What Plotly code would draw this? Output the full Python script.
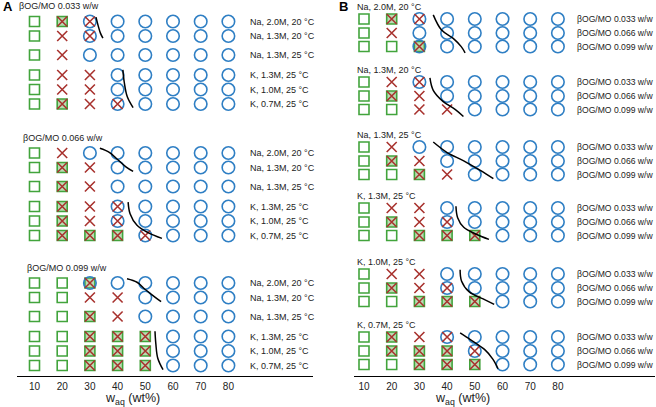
import plotly.graph_objects as go

# ---------------- data ----------------
waq = [10, 20, 30, 40, 50, 60, 70, 80]
tick_labels = ["10", "20", "30", "40", "50", "60", "70", "80"]
conditions = ["Na, 2.0M, 20 °C", "Na, 1.3M, 20 °C", "Na, 1.3M, 25 °C",
              "K, 1.3M, 25 °C", "K, 1.0M, 25 °C", "K, 0.7M, 25 °C"]
ratios = ["βOG/MO 0.033 w/w", "βOG/MO 0.066 w/w", "βOG/MO 0.099 w/w"]

# S = lamellar (square), X = cross, O = circle, combos = coexistence
phase_033 = [
    ["S", "SX", "OX", "O", "O", "O", "O", "O"],
    ["S", "X", "OX", "O", "O", "O", "O", "O"],
    ["S", "X", "O", "O", "O", "O", "O", "O"],
    ["S", "X", "X", "O", "O", "O", "O", "O"],
    ["S", "X", "X", "O", "O", "O", "O", "O"],
    ["S", "SX", "X", "OX", "O", "O", "O", "O"],
]
phase_066 = [
    ["S", "X", "O", "O", "O", "O", "O", "O"],
    ["S", "SX", "X", "O", "O", "O", "O", "O"],
    ["S", "SX", "X", "O", "O", "O", "O", "O"],
    ["S", "SX", "X", "OX", "O", "O", "O", "O"],
    ["S", "SX", "X", "OX", "O", "O", "O", "O"],
    ["S", "SX", "SX", "SX", "OX", "O", "O", "O"],
]
phase_099 = [
    ["S", "S", "SOX", "O", "O", "O", "O", "O"],
    ["S", "S", "X", "X", "O", "O", "O", "O"],
    ["S", "S", "SX", "X", "O", "O", "O", "O"],
    ["S", "S", "SX", "SX", "SX", "O", "O", "O"],
    ["S", "S", "SX", "SX", "SX", "O", "O", "O"],
    ["S", "S", "SX", "SX", "SX", "O", "O", "O"],
]
phases = [phase_033, phase_066, phase_099]

# boundary curves: (anchor row, x values, row offsets from anchor)
bound_A = [  # per ratio block: Na curve, K curve
    [(0, [32.2, 33.0, 33.8, 34.7], [-0.3, 0.3, 0.8, 1.15]),
     (3, [41.9, 42.4, 43.5, 45.6], [-0.35, 0.5, 1.5, 2.25])],
    [(0, [33.6, 37.0, 40.0, 43.0, 45.6], [-0.33, -0.05, 0.45, 0.95, 1.27]),
     (3, [43.8, 44.5, 47.0, 51.0, 56.0], [-0.3, 0.5, 1.3, 1.8, 2.2])],
    [(0, [43.4, 47.0, 50.0, 53.0, 55.7], [-0.29, -0.05, 0.45, 0.9, 1.29]),
     (3, [53.5, 53.8, 54.5, 56.4], [-0.36, 0.5, 1.5, 2.29])],
]
bound_B = [  # per condition
    ([35.0, 38.0, 42.2, 45.1, 46.5], [-0.3, 0.8, 1.4, 2.0, 2.45]),
    ([33.8, 35.0, 38.5, 43.0, 45.9], [-0.3, 0.6, 1.4, 2.0, 2.5]),
    ([35.0, 40.0, 46.0, 52.0, 56.7], [-0.36, 0.4, 1.0, 1.7, 2.3]),
    ([43.2, 43.8, 46.0, 50.5, 55.1], [-0.13, 0.7, 1.4, 1.9, 2.27]),
    ([44.7, 45.2, 48.0, 53.0, 57.0], [-0.3, 0.5, 1.3, 1.8, 2.2]),
    ([44.7, 48.5, 53.5, 56.5, 58.4], [-0.3, 0.2, 0.9, 1.6, 2.3]),
]

# ---------------- layout constants ----------------
GREEN = "#42a43c"
GREEN_FILL = "#b9dcb2"
RED = "#a8322e"
BLUE = "#2f7fc4"
TXT = "#222222"
FONT = "Liberation Sans, Arial, sans-serif"

A_bases = [21.5, 153, 283]
A_offs = [0, 14.5, 33.5, 53.5, 68, 82.5]
B_bases = [19, 82, 147, 208, 274, 337]
B_offs = [0, 14, 27.5]
ROWSTEP_A = 14.5
ROWSTEP_B = 13.8

fig = go.Figure()

def cells_to_traces(xs, ys, codes, xa, ya):
    sq_o, sq_f, circ, crs = ([], []), ([], []), ([], []), ([], [])
    for x, y, c in zip(xs, ys, codes):
        if c == "S":
            sq_o[0].append(x); sq_o[1].append(y)
        if c in ("SX", "SOX"):
            sq_f[0].append(x); sq_f[1].append(y)
        if "O" in c:
            circ[0].append(x); circ[1].append(y)
        if "X" in c:
            crs[0].append(x); crs[1].append(y)
    fig.add_trace(go.Scatter(x=sq_o[0], y=sq_o[1], mode="markers", xaxis=xa, yaxis=ya,
                             marker=dict(symbol="square-open", size=10, color=GREEN,
                                         line=dict(width=1.6, color=GREEN)),
                             showlegend=False, hoverinfo="skip"))
    fig.add_trace(go.Scatter(x=sq_f[0], y=sq_f[1], mode="markers", xaxis=xa, yaxis=ya,
                             marker=dict(symbol="square", size=10, color=GREEN_FILL,
                                         line=dict(width=1.6, color=GREEN)),
                             showlegend=False, hoverinfo="skip"))
    fig.add_trace(go.Scatter(x=circ[0], y=circ[1], mode="markers", xaxis=xa, yaxis=ya,
                             marker=dict(symbol="circle-open", size=12.5, color=BLUE,
                                         line=dict(width=1.6, color=BLUE)),
                             showlegend=False, hoverinfo="skip"))
    fig.add_trace(go.Scatter(x=crs[0], y=crs[1], mode="markers", xaxis=xa, yaxis=ya,
                             marker=dict(symbol="x-thin-open", size=10, color=RED,
                                         line=dict(width=1.6, color=RED)),
                             showlegend=False, hoverinfo="skip"))

annotations = []

# ---------------- Panel A ----------------
xsA, ysA, csA = [], [], []
A_title_x = [3.7 + 0.0, 3.7 + 1.4, 3.7 + 2.8]
for b, tbl in enumerate(phases):
    base = A_bases[b]
    annotations.append(dict(x=A_title_x[b], y=base - 15.5, xref="x", yref="y", text=ratios[b],
                            showarrow=False, xanchor="left", yanchor="middle",
                            font=dict(size=9, color=TXT, family=FONT)))
    for r, row in enumerate(tbl):
        y = base + A_offs[r]
        for xv, c in zip(waq, row):
            xsA.append(xv); ysA.append(y); csA.append(c)
        annotations.append(dict(x=87.1, y=y, xref="x", yref="y", text=conditions[r],
                                showarrow=False, xanchor="left", yanchor="middle",
                                font=dict(size=9, color=TXT, family=FONT)))
cells_to_traces(xsA, ysA, csA, "x", "y")

for b, curves in enumerate(bound_A):
    for (anchor, cx, cr) in curves:
        y0 = A_bases[b] + A_offs[anchor]
        fig.add_trace(go.Scatter(x=cx, y=[y0 + v * ROWSTEP_A for v in cr], mode="lines",
                                 line=dict(color="black", width=1.5, shape="spline", smoothing=1.0),
                                 xaxis="x", yaxis="y", showlegend=False, hoverinfo="skip"))

# ---------------- Panel B ----------------
xsB, ysB, csB = [], [], []
for g, cond in enumerate(conditions):
    base = B_bases[g]
    annotations.append(dict(x=6.75, y=base - 12, xref="x2", yref="y2", text=cond,
                            showarrow=False, xanchor="left", yanchor="middle",
                            font=dict(size=9, color=TXT, family=FONT)))
    for k in range(3):
        y = base + B_offs[k]
        for xv, c in zip(waq, phases[k][g]):
            xsB.append(xv); ysB.append(y); csB.append(c)
        annotations.append(dict(x=86.3, y=y, xref="x2", yref="y2", text=ratios[k],
                                showarrow=False, xanchor="left", yanchor="middle",
                                font=dict(size=8.6, color=TXT, family=FONT)))
cells_to_traces(xsB, ysB, csB, "x2", "y2")

for g, (cx, cr) in enumerate(bound_B):
    y0 = B_bases[g]
    fig.add_trace(go.Scatter(x=cx, y=[y0 + v * ROWSTEP_B for v in cr], mode="lines",
                             line=dict(color="black", width=1.5, shape="spline", smoothing=1.0),
                             xaxis="x2", yaxis="y2", showlegend=False, hoverinfo="skip"))

# panel letters and axis titles
W, H = 656, 407
annotations += [
    dict(x=1 / W, y=1 - 6 / H, xref="paper", yref="paper", text="<b>A</b>", showarrow=False,
         xanchor="left", yanchor="middle", font=dict(size=13, color="black", family=FONT)),
    dict(x=337 / W, y=1 - 6 / H, xref="paper", yref="paper", text="<b>B</b>", showarrow=False,
         xanchor="left", yanchor="middle", font=dict(size=13, color="black", family=FONT)),
    dict(x=132 / W, y=1 - 399 / H, xref="paper", yref="paper", text="w<sub>aq</sub> (wt%)",
         showarrow=False, xanchor="center", yanchor="middle",
         font=dict(size=12.5, color=TXT, family=FONT)),
    dict(x=462 / W, y=1 - 399 / H, xref="paper", yref="paper", text="w<sub>aq</sub> (wt%)",
         showarrow=False, xanchor="center", yanchor="middle",
         font=dict(size=12.5, color=TXT, family=FONT)),
]

def xpx_range(px0, px1, px10):
    return [10 + (px0 - px10) / 2.77, 10 + (px1 - px10) / 2.77]

axis_common = dict(showgrid=False, zeroline=False, tickmode="array", tickvals=waq,
                   ticktext=tick_labels, ticks="", showline=True, linecolor="black",
                   linewidth=1, tickfont=dict(size=10, color=TXT, family=FONT), fixedrange=True,
                   ticklabelstandoff=1)

fig.update_layout(
    width=W, height=H,
    margin=dict(l=0, r=0, t=0, b=0),
    paper_bgcolor="white", plot_bgcolor="white",
    showlegend=False,
    xaxis=dict(domain=[17 / W, 313 / W], range=xpx_range(17, 313, 34.5), anchor="y",
               **axis_common),
    xaxis2=dict(domain=[354 / W, 655 / W], range=xpx_range(354, 655, 364), anchor="y2",
                **axis_common),
    yaxis=dict(domain=[1 - 376 / H, 1], range=[376, 0], visible=False, fixedrange=True),
    yaxis2=dict(domain=[1 - 376 / H, 1], range=[376, 0], visible=False, anchor="x2",
                fixedrange=True),
    annotations=annotations,
)

fig.write_html("out.html", config={"displayModeBar": False},
               post_script="document.body.style.margin='0px';document.body.style.overflow='hidden';")
